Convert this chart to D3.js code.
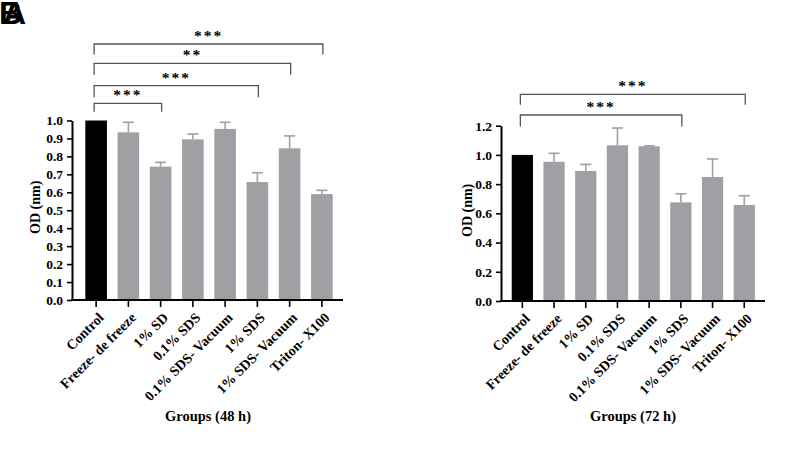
<!DOCTYPE html>
<html>
<head>
<meta charset="utf-8">
<script src="https://cdn.jsdelivr.net/npm/d3@7"></script>
<style>
  html, body { margin: 0; padding: 0; background: #fff; }
  svg { display: block; }
  text { font-family: "Liberation Serif", "Times New Roman", serif; font-weight: bold; fill: #000; }
</style>
</head>
<body>
<svg id="chart" width="797" height="450"></svg>
<script>
// ---- data ----
const categories = ["Control", "Freeze- de freeze", "1% SD", "0.1% SDS", "0.1% SDS- Vacuum", "1% SDS", "1% SDS- Vacuum", "Triton- X100"];
const values48 = [1.0, 0.934, 0.743, 0.895, 0.953, 0.657, 0.845, 0.59];
const errors48 = [0, 0.056, 0.024, 0.030, 0.037, 0.052, 0.069, 0.021];
const values72 = [1.0, 0.953, 0.89, 1.066, 1.059, 0.675, 0.849, 0.657];
const errors72 = [0, 0.058, 0.045, 0.118, 0.003, 0.059, 0.123, 0.064];
const ticks48 = [0, 0.1, 0.2, 0.3, 0.4, 0.5, 0.6, 0.7, 0.8, 0.9, 1.0];
const ticks72 = [0, 0.2, 0.4, 0.6, 0.8, 1.0, 1.2];
const sig48 = [
  { from: "Control", to: "1% SD", label: "***" },
  { from: "Control", to: "1% SDS", label: "***" },
  { from: "Control", to: "1% SDS- Vacuum", label: "**" },
  { from: "Control", to: "Triton- X100", label: "***" }
];
const sig72 = [
  { from: "Control", to: "1% SDS", label: "***" },
  { from: "Control", to: "Triton- X100", label: "***" }
];
const xTitle48 = "Groups (48 h)";
const xTitle72 = "Groups (72 h)";
const yTitle = "OD (nm)";

// ---- layout / style ----
const barGray = "#a0a0a4";
const svg = d3.select("#chart");

function panel(cfg) {
  const g = svg.append("g");
  const y = d3.scaleLinear().domain(cfg.yDomain).range([cfg.y0, cfg.y1]);
  const x = d3.scaleBand().domain(categories).range([cfg.bx0, cfg.bx1])
    .paddingInner(0.33).paddingOuter(0.165);

  // bars
  g.selectAll("rect.bar").data(categories).enter().append("rect")
    .attr("x", d => x(d))
    .attr("width", x.bandwidth())
    .attr("y", (d, i) => y(cfg.values[i]))
    .attr("height", (d, i) => y(0) - y(cfg.values[i]))
    .attr("fill", (d, i) => i === 0 ? "#000" : barGray);

  // error bars (upper only)
  const eb = g.selectAll("g.err").data(categories).enter().append("g")
    .filter((d, i) => cfg.errors[i] > 0);
  eb.append("line")
    .attr("x1", d => x(d) + x.bandwidth() / 2)
    .attr("x2", d => x(d) + x.bandwidth() / 2)
    .attr("y1", d => y(cfg.values[categories.indexOf(d)]))
    .attr("y2", d => { const i = categories.indexOf(d); return y(cfg.values[i] + cfg.errors[i]); })
    .attr("stroke", barGray).attr("stroke-width", 1.6);
  eb.append("line")
    .attr("x1", d => x(d) + x.bandwidth() / 2 - 5.5)
    .attr("x2", d => x(d) + x.bandwidth() / 2 + 5.5)
    .attr("y1", d => { const i = categories.indexOf(d); return y(cfg.values[i] + cfg.errors[i]); })
    .attr("y2", d => { const i = categories.indexOf(d); return y(cfg.values[i] + cfg.errors[i]); })
    .attr("stroke", barGray).attr("stroke-width", 1.6);

  // y axis
  const yAxis = d3.axisLeft(y).tickValues(cfg.ticks).tickFormat(d3.format(".1f"))
    .tickSize(5).tickSizeOuter(0).tickPadding(4);
  const ya = g.append("g").attr("transform", `translate(${cfg.ax},0)`).call(yAxis);
  ya.select(".domain").attr("stroke", "#000").attr("stroke-width", 2);
  ya.selectAll(".tick line").attr("stroke", "#000").attr("stroke-width", 1.6);
  ya.selectAll(".tick text").style("font-size", "13.5px").style("font-family", "Liberation Serif").style("font-weight", "bold");

  // x axis
  const xAxis = d3.axisBottom(x).tickSize(7).tickSizeOuter(0).tickFormat("");
  const xa = g.append("g").attr("transform", `translate(0,${cfg.y0})`).call(xAxis);
  xa.select(".domain").remove();
  xa.selectAll(".tick line").attr("stroke", "#000").attr("stroke-width", 1.6);
  g.append("line").attr("x1", cfg.ax - 1).attr("x2", cfg.axEnd)
    .attr("y1", cfg.y0).attr("y2", cfg.y0).attr("stroke", "#000").attr("stroke-width", 2);

  // rotated category labels
  g.selectAll("text.cat").data(categories).enter().append("text")
    .attr("class", "cat")
    .attr("transform", d => `translate(${x(d) + x.bandwidth() / 2 + 5},${cfg.y0 + 15}) rotate(-45)`)
    .attr("text-anchor", "end")
    .attr("dy", "0.35em")
    .style("font-size", "14px")
    .text(d => d);

  // axis titles
  g.append("text").attr("x", cfg.xTitleX).attr("y", 421).attr("text-anchor", "middle")
    .style("font-size", "14.5px").text(cfg.xTitle);
  g.append("text").attr("transform", `translate(${cfg.yTitleX},${(cfg.y0 + cfg.y1) / 2 - 3}) rotate(-90)`)
    .attr("text-anchor", "middle").style("font-size", "14px").text(yTitle);

  // significance brackets
  cfg.sig.forEach((s, k) => {
    const xa0 = x(s.from) + x.bandwidth() / 2 - 2;
    const xa1 = x(s.to) + x.bandwidth() / 2 + 1;
    const ly = cfg.sigY[k];
    const drop = cfg.sigDrop[k];
    g.append("path")
      .attr("d", `M${xa0},${ly + drop}V${ly}H${xa1}V${ly + drop}`)
      .attr("fill", "none").attr("stroke", "#555").attr("stroke-width", 1.3);
    g.append("text").attr("x", (xa0 + xa1) / 2).attr("y", ly - 3)
      .attr("text-anchor", "middle").style("font-size", "15.5px").style("letter-spacing", "2px")
      .text(s.label);
  });
}

panel({
  values: values48, errors: errors48, ticks: ticks48, yDomain: [0, 1.0],
  y0: 300, y1: 120.5, ax: 72, axEnd: 343, bx0: 80, bx1: 338,
  xTitle: xTitle48, xTitleX: 208, yTitleX: 40,
  sig: sig48, sigY: [103.3, 85.7, 63.3, 44], sigDrop: [8.5, 11.5, 11.5, 10.5]
});
panel({
  values: values72, errors: errors72, ticks: ticks72, yDomain: [0, 1.2],
  y0: 301, y1: 125.7, ax: 501, axEnd: 765, bx0: 506.5, bx1: 760.1,
  xTitle: xTitle72, xTitleX: 633, yTitleX: 472,
  sig: sig72, sigY: [115, 94.3], sigDrop: [11.5, 10.5]
});

// panel letters (overlapping in the source)
svg.append("text").attr("x", -1).attr("y", 24).style("font-family", "Liberation Sans")
  .style("font-size", "32px").style("font-weight", "bold").text("B");
svg.append("text").attr("x", 3).attr("y", 24).style("font-family", "Liberation Sans")
  .style("font-size", "32px").style("font-weight", "bold").text("A");
</script>
</body>
</html>
